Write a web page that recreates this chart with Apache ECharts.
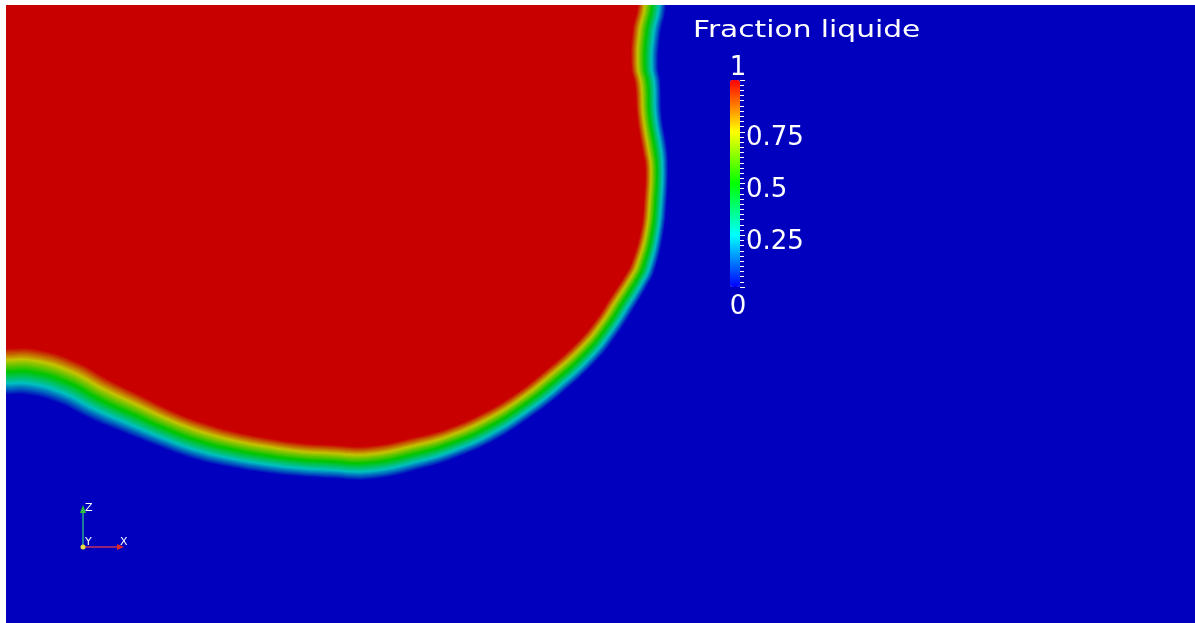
<!DOCTYPE html>
<html>
<head>
<meta charset="utf-8">
<script src="https://cdn.jsdelivr.net/npm/echarts/dist/echarts.min.js"></script>
<style>
  html, body { margin: 0; padding: 0; background: #ffffff; }
  #chart { width: 1195px; height: 623px; }
</style>
</head>
<body>
<div id="chart"></div>
<script>
// Liquid-fraction field on the x–z plane: the 0.5 iso-line of the interface
// (from the left boundary, under the drop, up to the top boundary) and the
// local thickness of the diffuse transition across it.
const interfaceX = [-0.20, -0.08, 0.000, 0.045, 0.103, 0.158, 0.214, 0.271, 0.326, 0.382,
                    0.439, 0.495, 0.545, 0.612, 0.696, 0.752, 0.809, 0.865, 0.920, 0.977,
                    1.011, 1.033, 1.061, 1.072, 1.087, 1.093, 1.095, 1.092, 1.083, 1.080,
                    1.075, 1.078, 1.087, 1.090, 1.090];
const interfaceY = [0.422, 0.422, 0.422, 0.421, 0.404, 0.375, 0.350, 0.325, 0.305, 0.291,
                    0.281, 0.274, 0.271, 0.269, 0.286, 0.303, 0.328, 0.362, 0.404, 0.456,
                    0.498, 0.532, 0.577, 0.599, 0.656, 0.712, 0.767, 0.796, 0.852, 0.909,
                    0.936, 0.993, 1.037, 1.100, 1.200];
const interfaceThickness = [0.079, 0.079, 0.079, 0.079, 0.077, 0.074, 0.070, 0.065, 0.064, 0.061,
                            0.059, 0.057, 0.057, 0.057, 0.055, 0.052, 0.051, 0.048, 0.048, 0.046,
                            0.044, 0.044, 0.042, 0.042, 0.039, 0.039, 0.039, 0.042, 0.042, 0.044,
                            0.046, 0.048, 0.048, 0.048, 0.048];
// Far corner on the liquid side that closes each band polygon
const liquidCorner = [-0.40, 1.40];

// Filled iso-bands of the fraction
const contourLevels = [0.025, 0.050, 0.075, 0.100, 0.125, 0.150, 0.175, 0.200, 0.225, 0.250,
                       0.275, 0.300, 0.325, 0.350, 0.375, 0.400, 0.425, 0.450, 0.475, 0.500,
                       0.525, 0.550, 0.575, 0.600, 0.625, 0.650, 0.675, 0.700, 0.725, 0.750,
                       0.775, 0.800, 0.825, 0.850, 0.875, 0.900, 0.925, 0.950, 0.975, 1.000];

// Domain extent
const domainX = [0, 2.0];
const domainZ = [0, 1.04];

// Colour bar
const colorbarTitle = 'Fraction liquide';
const colorbarRange = [0, 1];
const colorbarStep = 0.25;
const colorbarEnds = ['1', '0'];

// Blue-to-red rainbow, lit (field) and unlit (legend)
const rainbowLit = ['#0000be', '#00c0c0', '#00c400', '#c4c400', '#c80000'];
const rainbowBar = ['#0000ff', '#00ffff', '#00ff00', '#ffff00', '#ff0000'];

const chart = echarts.init(document.getElementById('chart'), null, { renderer: 'canvas' });

// One band polygon: the iso-line shifted along its normal for the given level,
// closed on the liquid side.
function renderBand(params, api) {
  const level = api.value(0);
  const n = interfaceX.length;
  const px = interfaceX.map((x, i) => api.coord([x, interfaceY[i]]));
  const pts = [];
  for (let i = 0; i < n; i++) {
    const a = px[Math.max(i - 1, 0)];
    const b = px[Math.min(i + 1, n - 1)];
    let tx = b[0] - a[0], ty = b[1] - a[1];
    const len = Math.hypot(tx, ty) || 1;
    tx /= len; ty /= len;
    const w = api.size([interfaceThickness[i], 0])[0];
    const d = (0.5 - level) * w;
    pts.push([px[i][0] - ty * d, px[i][1] + tx * d]);
  }
  pts.push(api.coord(liquidCorner));
  return {
    type: 'polygon',
    silent: true,
    shape: { points: pts, smooth: 0.45 },
    style: { fill: api.visual('color'), stroke: null }
  };
}

const endText = (text, y) => ({
  type: 'text', silent: true, x: 738, y: y,
  style: { text: text, fill: '#ffffff', fontSize: 26, fontFamily: 'DejaVu Sans',
           align: 'center', verticalAlign: 'middle' }
});

const option = {
  animation: false,
  backgroundColor: '#ffffff',
  grid: [
    { left: 6, top: 5, right: 0, bottom: 0, show: true, backgroundColor: rainbowLit[0], borderWidth: 0 },
    { left: 730, top: 80, width: 10, height: 207, show: false }
  ],
  xAxis: [
    { gridIndex: 0, type: 'value', min: domainX[0], max: domainX[1], show: false },
    { gridIndex: 1, type: 'value', min: 0, max: 1, show: false }
  ],
  yAxis: [
    { gridIndex: 0, type: 'value', min: domainZ[0], max: domainZ[1], show: false },
    {
      gridIndex: 1, type: 'value', position: 'right', z: 10,
      min: colorbarRange[0], max: colorbarRange[1], interval: colorbarStep,
      axisLine: { show: true, onZero: false, lineStyle: { color: '#ffffff', opacity: 0 } },
      splitLine: { show: false },
      axisTick: { show: true, inside: false, length: 5, lineStyle: { color: '#ffffff', width: 1, opacity: 1 } },
      minorTick: { show: true, splitNumber: 10, length: 4, lineStyle: { color: '#ffffff', width: 1, opacity: 1 } },
      axisLabel: {
        color: '#ffffff', fontSize: 26, fontFamily: 'DejaVu Sans', margin: 6,
        verticalAlign: 'top', lineHeight: 13,
        formatter: v => (v > colorbarRange[0] && v < colorbarRange[1]) ? String(v) : ''
      }
    }
  ],
  visualMap: [
    {
      type: 'continuous', show: false, seriesIndex: 0, dimension: 0,
      min: colorbarRange[0], max: colorbarRange[1],
      inRange: { color: rainbowLit }
    },
    {
      type: 'continuous', show: true, seriesIndex: 1, z: 2,
      min: colorbarRange[0], max: colorbarRange[1],
      orient: 'vertical', left: 730, top: 80, padding: 0,
      itemWidth: 10, itemHeight: 207, calculable: false, hoverLink: false,
      text: null, showLabel: false,
      inRange: { color: rainbowBar }
    }
  ],
  series: [
    {
      type: 'custom', name: colorbarTitle, xAxisIndex: 0, yAxisIndex: 0,
      clip: true, silent: true,
      renderItem: renderBand,
      data: contourLevels.map(v => [v])
    },
    {
      type: 'scatter', xAxisIndex: 1, yAxisIndex: 1, data: [], silent: true
    }
  ],
  graphic: [
    {
      type: 'text', x: 693, y: 20, scaleX: 1.29, silent: true,
      style: { text: colorbarTitle, fill: '#ffffff', fontSize: 23, fontFamily: 'DejaVu Sans',
               align: 'left', verticalAlign: 'top' }
    },
    endText(colorbarEnds[0], 68),
    endText(colorbarEnds[1], 307),
    // orientation triad
    { type: 'line', silent: true, shape: { x1: 83, y1: 547, x2: 83, y2: 510 }, style: { stroke: '#2aa88a', lineWidth: 1.5 } },
    { type: 'polygon', silent: true, shape: { points: [[80, 513], [86, 513], [83, 505]] }, style: { fill: '#30c040' } },
    { type: 'line', silent: true, shape: { x1: 83, y1: 547, x2: 118, y2: 547 }, style: { stroke: '#c03060', lineWidth: 1.5 } },
    { type: 'polygon', silent: true, shape: { points: [[117, 544], [117, 550], [124, 547]] }, style: { fill: '#e02828' } },
    { type: 'circle', silent: true, shape: { cx: 83, cy: 547, r: 2.5 }, style: { fill: '#e8e040' } },
    { type: 'text', silent: true, x: 85, y: 503, style: { text: 'Z', fill: '#ffffff', fontSize: 11, fontFamily: 'DejaVu Sans', align: 'left', verticalAlign: 'top' } },
    { type: 'text', silent: true, x: 85, y: 537, style: { text: 'Y', fill: '#ffffff', fontSize: 11, fontFamily: 'DejaVu Sans', align: 'left', verticalAlign: 'top' } },
    { type: 'text', silent: true, x: 120, y: 537, style: { text: 'X', fill: '#ffffff', fontSize: 11, fontFamily: 'DejaVu Sans', align: 'left', verticalAlign: 'top' } }
  ]
};

chart.setOption(option);
</script>
</body>
</html>
